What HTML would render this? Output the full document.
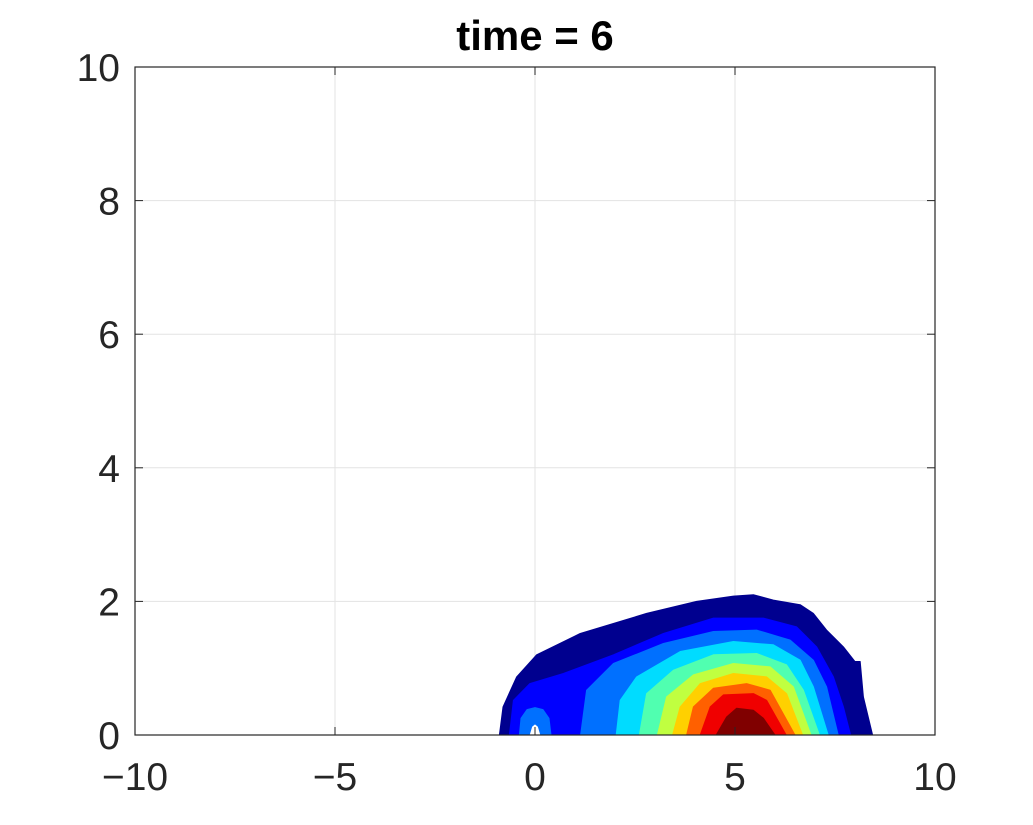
<!DOCTYPE html>
<html><head><meta charset="utf-8"><style>
html,body{margin:0;padding:0;background:#fff;}
svg{display:block;font-family:"Liberation Sans",Arial,sans-serif;}
</style></head><body>
<svg id="chart" width="1033" height="825">
<rect width="1033" height="825" fill="#fff"/>
<rect x="135" y="67" width="800" height="668" fill="#fff"/>
<g id="grid"></g>
<g id="contours"></g>
<g id="axes"></g>
<text x="535" y="50" text-anchor="middle" font-size="42" font-weight="bold" fill="#000">time = 6</text>
</svg>
<script>
const xTicks = [-10, -5, 0, 5, 10];
const yTicks = [0, 2, 4, 6, 8, 10];
const levelColors = ["#00008f","#0000ff","#0070ff","#00dcff","#50ffb0","#c0ff40","#ffd000","#ff6000","#f00000","#800000"];
const level1 = [[-0.89,0],[-0.8,0.42],[-0.46,0.87],[0.04,1.2],[1.13,1.52],[2.79,1.82],[4.04,2.0],[4.96,2.08],[5.46,2.1],[5.96,2.02],[6.63,1.95],[6.96,1.82],[7.29,1.57],[7.71,1.32],[8.0,1.1],[8.13,1.1],[8.21,0.57],[8.44,0]];
const level2 = [[-0.64,0],[-0.54,0.52],[-0.13,0.77],[0.71,0.92],[1.96,1.2],[3.21,1.52],[4.46,1.75],[5.71,1.75],[6.54,1.62],[7.04,1.32],[7.46,0.87],[7.71,0.42],[7.89,0]];
const holeOuter = [[-0.39,0],[-0.35,0.25],[-0.2,0.38],[0,0.41],[0.2,0.38],[0.35,0.25],[0.4,0]];
const holeInner = [[-0.12,0],[-0.06,0.12],[0,0.15],[0.06,0.12],[0.12,0]];
const level3 = [[1.14,0],[1.29,0.67],[1.96,1.07],[3.21,1.37],[4.46,1.55],[5.54,1.57],[6.38,1.42],[6.96,1.12],[7.29,0.72],[7.58,0]];
const level4 = [[2.03,0],[2.13,0.52],[2.54,0.87],[3.63,1.25],[4.96,1.4],[5.96,1.35],[6.63,1.12],[6.96,0.72],[7.33,0]];
const level5 = [[2.61,0],[2.79,0.62],[3.46,0.97],[4.46,1.2],[5.54,1.22],[6.29,1.05],[6.71,0.67],[7.11,0]];
const level6 = [[3.06,0],[3.29,0.57],[3.96,0.9],[4.96,1.07],[5.88,1.02],[6.46,0.72],[6.9,0]];
const level7 = [[3.44,0],[3.63,0.42],[4.13,0.77],[4.96,0.92],[5.79,0.87],[6.29,0.62],[6.69,0]];
const level8 = [[3.79,0],[3.96,0.42],[4.46,0.7],[5.29,0.77],[5.88,0.67],[6.5,0]];
const level9 = [[4.13,0],[4.38,0.42],[4.71,0.6],[5.46,0.62],[5.79,0.52],[6.28,0]];
const level10 = [[4.53,0],[4.79,0.27],[5.04,0.4],[5.46,0.37],[5.71,0.25],[6.0,0]];

const X0=135,X1=935,Y0=735,Y1=67;
const sx = v => X0 + (v+10)/20*(X1-X0);
const sy = v => Y0 - v/10*(Y0-Y1);
const NS="http://www.w3.org/2000/svg";
function mk(tag, attrs, parent){const e=document.createElementNS(NS,tag);for(const k in attrs)e.setAttribute(k,attrs[k]);parent.appendChild(e);return e;}
const fmt = t => (t<0?'\u2212':'')+Math.abs(t);
const grid=document.getElementById('grid'), cont=document.getElementById('contours'), axes=document.getElementById('axes');
xTicks.forEach(t=>{
  const l=mk('line',{x1:sx(t),x2:sx(t),y1:Y1,y2:Y0,stroke:'#e3e3e3','stroke-width':1},grid);
  
  
});
yTicks.forEach(t=>{
  const l=mk('line',{x1:X0,x2:X1,y1:sy(t),y2:sy(t),stroke:'#e3e3e3','stroke-width':1},grid);
  
  
});
function poly(pts,color,name){
  const d=pts.map((p,i)=>(i?'L':'M')+sx(p[0]).toFixed(1)+' '+sy(p[1]).toFixed(1)).join(' ')+' Z';
  const p=mk('path',{d:d,fill:color,stroke:color,'stroke-width':1,'stroke-linejoin':'round'},cont);
  
  
}
const levels=[level1,level2,level3,level4,level5,level6,level7,level8,level9,level10];
levels.forEach((lv,i)=>{
  poly(lv,levelColors[i],'contour-level-'+(i+1));
  if(i===1){poly(holeOuter,levelColors[2],'contour-hole-outer');poly(holeInner,'#ffffff','contour-hole-inner');}
});
mk('rect',{x:X0,y:Y1,width:X1-X0,height:Y0-Y1,fill:'none',stroke:'#262626','stroke-width':1.2},axes);
xTicks.forEach(t=>{
  mk('line',{x1:sx(t),x2:sx(t),y1:Y0,y2:Y0-8,stroke:'#262626'},axes);
  mk('line',{x1:sx(t),x2:sx(t),y1:Y1,y2:Y1+8,stroke:'#262626'},axes);
  const tx=mk('text',{x:sx(t),y:790,'text-anchor':'middle','font-size':39,fill:'#262626'},axes);
  tx.textContent=fmt(t);
  
  
});
yTicks.forEach(t=>{
  mk('line',{x1:X0,x2:X0+8,y1:sy(t),y2:sy(t),stroke:'#262626'},axes);
  mk('line',{x1:X1,x2:X1-8,y1:sy(t),y2:sy(t),stroke:'#262626'},axes);
  const tx=mk('text',{x:120,y:sy(t)+14,'text-anchor':'end','font-size':39,fill:'#262626'},axes);
  tx.textContent=fmt(t);
  
  
});
</script>
</body></html>
